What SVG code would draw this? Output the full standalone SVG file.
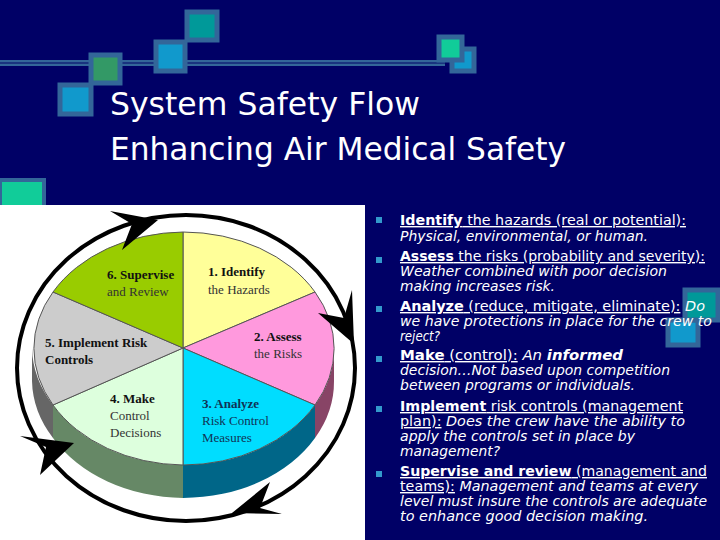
<svg xmlns="http://www.w3.org/2000/svg" width="720" height="540" viewBox="0 0 720 540">
<style>
.t{font-family:"DejaVu Sans",Verdana,sans-serif;fill:#fff;font-size:14px}
.u{text-decoration:underline}
.i{font-style:italic}
.b{font-weight:bold}
.p{font-family:"Liberation Serif",serif;font-size:13px;fill:#333}
.pb{font-weight:bold;fill:#111}
.sq{stroke:#336699;stroke-width:5}
</style>
<rect width="720" height="540" fill="#000066"/>
<g id="deco">
<rect x="0" y="60" width="445" height="6" fill="#336699"/>
<line x1="0" y1="63" x2="445" y2="63" stroke="#000066" stroke-width="1"/>
<rect x="60" y="85" width="31" height="29" fill="#1199cc" class="sq"/>
<rect x="91" y="55" width="29" height="28" fill="#339966" class="sq"/>
<rect x="156" y="42" width="29" height="29" fill="#1199cc" class="sq"/>
<rect x="187" y="12" width="30" height="28" fill="#009999" class="sq"/>
<rect x="452" y="49" width="22" height="22" fill="#1199cc" class="sq"/>
<rect x="439" y="37" width="23" height="23" fill="#11cc99" class="sq"/>
<rect x="0" y="180" width="44" height="30" fill="#11cc99" stroke="#336699" stroke-width="4"/>
<rect x="668" y="320" width="30" height="25" fill="#1199cc" class="sq"/>
<rect x="685" y="290" width="33" height="30" fill="#009999" class="sq"/>
</g>
<g id="title" font-family="DejaVu Sans,Verdana,sans-serif" font-size="32" fill="#fff">
<text x="110" y="115" textLength="310" lengthAdjust="spacingAndGlyphs">System Safety Flow</text>
<text x="110" y="160" textLength="456" lengthAdjust="spacingAndGlyphs">Enhancing Air Medical Safety</text>
</g>
<rect x="0" y="205" width="365" height="335" fill="#fff"/>
<g id="pie">
<ellipse cx="186" cy="368" rx="169" ry="153" fill="none" stroke="#000" stroke-width="4"/>
<path d="M32,348 A151,116 0 0 0 53,405 L53,438 A151,116 0 0 1 32,381Z" fill="#666"/>
<path d="M53,405 A151,116 0 0 0 183,465 L183,498 A151,116 0 0 1 53,438Z" fill="#668866"/>
<path d="M183,465 A151,116 0 0 0 315,405 L315,438 A151,116 0 0 1 183,498Z" fill="#006688"/>
<path d="M315,405 A151,116 0 0 0 334,348 L334,381 A151,116 0 0 1 315,438Z" fill="#884466"/>
<g stroke="#555" stroke-width="1">
<path d="M183,348 L183,232 A151,116 0 0 1 315,292Z" fill="#ffff99"/>
<path d="M183,348 L315,292 A151,116 0 0 1 315,405Z" fill="#ff99dd"/>
<path d="M183,348 L315,405 A151,116 0 0 1 183,465Z" fill="#00ddff"/>
<path d="M183,348 L183,465 A151,116 0 0 1 53,405Z" fill="#ddffdd"/>
<path d="M183,348 L53,405 A151,116 0 0 1 53,292Z" fill="#cccccc"/>
<path d="M183,348 L53,292 A151,116 0 0 1 183,232Z" fill="#99cc00"/>
</g>
<g fill="#000">
<polygon points="110,211 158,220 122,250 132,224"/>
<polygon points="352,290 354,344 318,313 344,318"/>
<polygon points="232,513 270,482 260,508 282,514"/>
<polygon points="20,436 74,443 40,475 46,447"/>
</g>
<text class="p" x="107" y="279"><tspan class="pb">6. Supervise</tspan><tspan x="107" y="296">and Review</tspan></text>
<text class="p" x="208" y="276"><tspan class="pb">1. Identify</tspan><tspan x="208" y="294">the Hazards</tspan></text>
<text class="p" x="254" y="341"><tspan class="pb">2. Assess</tspan><tspan x="254" y="358">the Risks</tspan></text>
<text class="p" x="45" y="347"><tspan class="pb">5. Implement Risk</tspan><tspan class="pb" x="45" y="364">Controls</tspan></text>
<text class="p" x="110" y="403"><tspan class="pb">4. Make</tspan><tspan x="110" y="420">Control</tspan><tspan x="110" y="437">Decisions</tspan></text>
<text class="p" x="202" y="408" style="fill:#113355"><tspan class="pb" style="fill:#113355">3. Analyze</tspan><tspan x="202" y="425">Risk Control</tspan><tspan x="202" y="442">Measures</tspan></text>
</g>
<g id="bullets" fill="#3399cc">
<rect x="376" y="217" width="6" height="6"/>
<rect x="376" y="257" width="6" height="6"/>
<rect x="376" y="306" width="6" height="6"/>
<rect x="376" y="356" width="6" height="6"/>
<rect x="376" y="406" width="6" height="6"/>
<rect x="376" y="471" width="6" height="6"/>
</g>
<g id="text" class="t">
<text x="400" y="225" textLength="286" lengthAdjust="spacingAndGlyphs"><tspan class="u b">Identify</tspan><tspan class="u"> the hazards (real or potential):</tspan></text>
<text x="400" y="241" class="i" textLength="248" lengthAdjust="spacingAndGlyphs">Physical, environmental, or human.</text>
<text x="400" y="261" textLength="305" lengthAdjust="spacingAndGlyphs"><tspan class="u b">Assess</tspan><tspan class="u"> the risks (probability and severity):</tspan></text>
<text x="400" y="276" class="i" textLength="267" lengthAdjust="spacingAndGlyphs">Weather combined with poor decision</text>
<text x="400" y="291" class="i" textLength="155" lengthAdjust="spacingAndGlyphs">making increases risk.</text>
<text x="400" y="311" textLength="305" lengthAdjust="spacingAndGlyphs"><tspan class="u b">Analyze</tspan><tspan class="u"> (reduce, mitigate, eliminate):</tspan><tspan class="i">  Do</tspan></text>
<text x="400" y="326" class="i" textLength="312" lengthAdjust="spacingAndGlyphs">we have protections in place for the crew to</text>
<text x="400" y="341" class="i" textLength="40" lengthAdjust="spacingAndGlyphs">reject?</text>
<text x="400" y="360" textLength="223" lengthAdjust="spacingAndGlyphs"><tspan class="u b">Make</tspan><tspan class="u"> (control):</tspan><tspan class="i">  An </tspan><tspan class="i b">informed</tspan></text>
<text x="400" y="375" class="i" textLength="270" lengthAdjust="spacingAndGlyphs">decision…Not based upon competition</text>
<text x="400" y="390" class="i" textLength="235" lengthAdjust="spacingAndGlyphs">between programs or individuals.</text>
<text x="400" y="411" textLength="283" lengthAdjust="spacingAndGlyphs"><tspan class="u b">Implement</tspan><tspan class="u"> risk controls (management</tspan></text>
<text x="400" y="426" textLength="285" lengthAdjust="spacingAndGlyphs"><tspan class="u">plan):</tspan><tspan class="i">  Does the crew have the ability to</tspan></text>
<text x="400" y="441" class="i" textLength="235" lengthAdjust="spacingAndGlyphs">apply the controls set in place by</text>
<text x="400" y="456" class="i" textLength="100" lengthAdjust="spacingAndGlyphs">management?</text>
<text x="400" y="476" textLength="307" lengthAdjust="spacingAndGlyphs"><tspan class="u b">Supervise and review</tspan><tspan class="u"> (management and</tspan></text>
<text x="400" y="491" textLength="298" lengthAdjust="spacingAndGlyphs"><tspan class="u">teams):</tspan><tspan class="i">  Management and teams at every</tspan></text>
<text x="400" y="506" class="i" textLength="307" lengthAdjust="spacingAndGlyphs">level must insure the controls are adequate</text>
<text x="400" y="521" class="i" textLength="248" lengthAdjust="spacingAndGlyphs">to enhance good decision making.</text>
</g>
</svg>
